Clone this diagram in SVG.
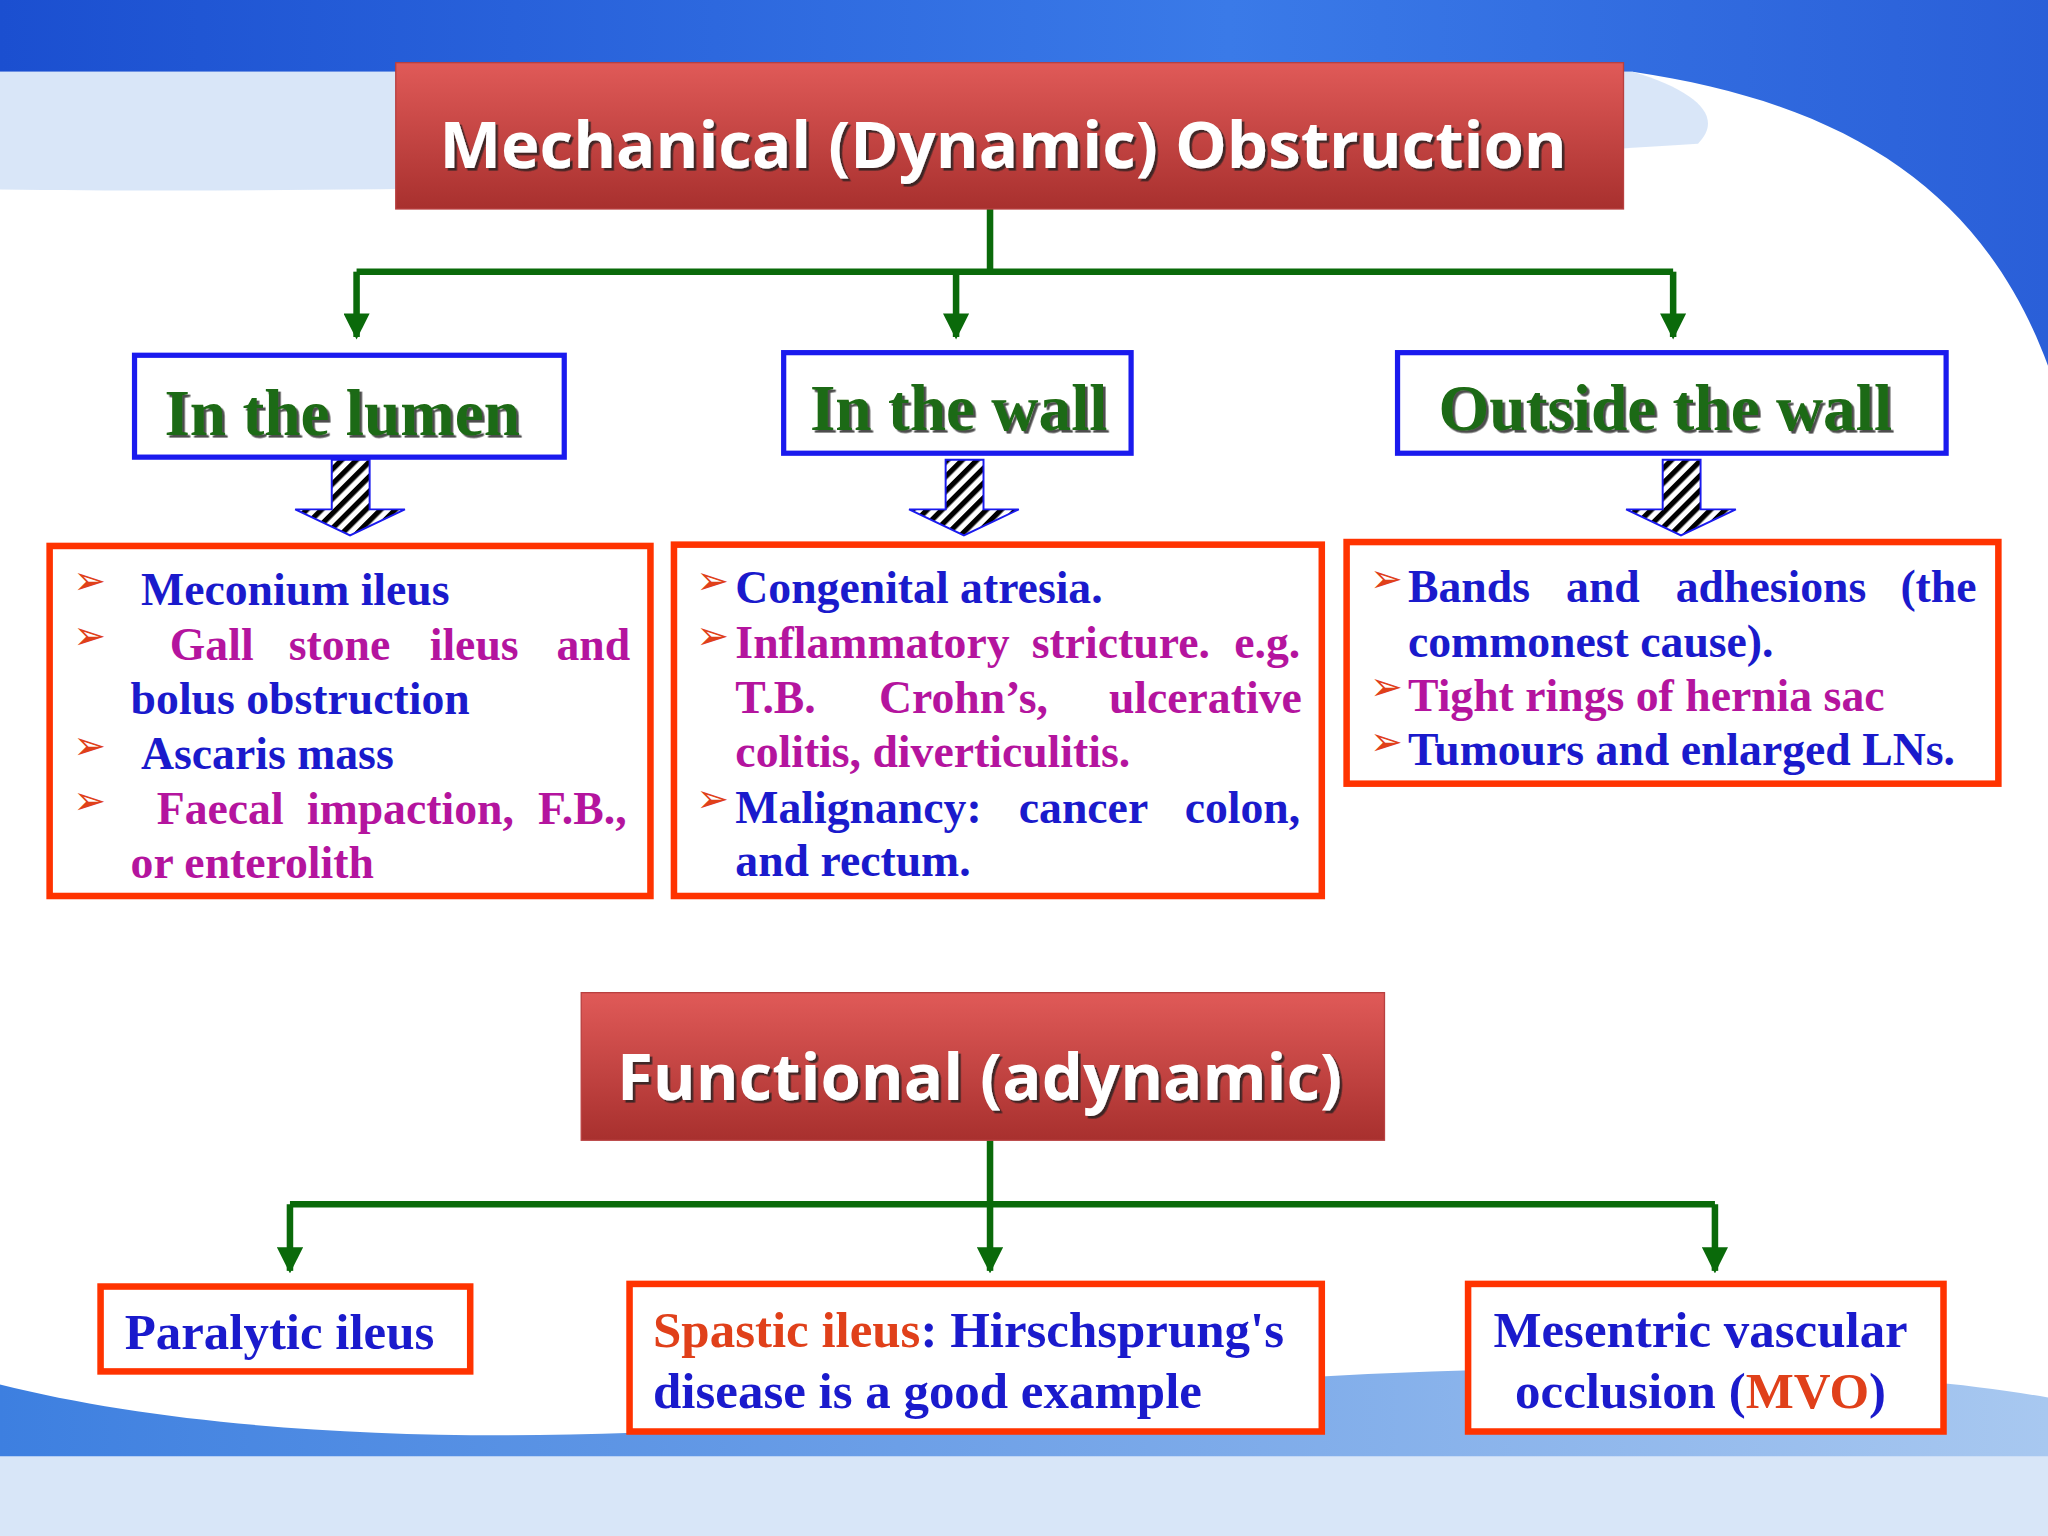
<svg xmlns="http://www.w3.org/2000/svg" width="2048" height="1536" viewBox="0 0 2048 1536">
<defs>
<linearGradient id="red" x1="0" y1="0" x2="0" y2="1"><stop offset="0" stop-color="#e05a58"/><stop offset="1" stop-color="#a8302e"/></linearGradient>
<linearGradient id="sky" x1="0" y1="0" x2="1" y2="0"><stop offset="0" stop-color="#1b4fd0"/><stop offset="0.6" stop-color="#3a7ae8"/><stop offset="1" stop-color="#2a5fd8"/></linearGradient>
<linearGradient id="bot" x1="0" y1="0" x2="1" y2="0"><stop offset="0" stop-color="#3d7fe0"/><stop offset="1" stop-color="#a8c8f0"/></linearGradient>
<pattern id="stripe" width="8" height="8" patternUnits="userSpaceOnUse" patternTransform="rotate(45)"><rect width="8" height="8" fill="#fff"/><rect width="4" height="8" fill="#000"/></pattern>
<marker id="ah" viewBox="0 0 10 10" refX="9" refY="5" markerWidth="4" markerHeight="4" orient="auto"><path d="M0,0 L10,5 L0,10 Z" fill="#0a6a0a"/></marker>
<filter id="sh"><feDropShadow dx="2" dy="2" stdDeviation="0.5" flood-color="#222" flood-opacity="0.8"/></filter>
</defs>
<style>
.ttl{font-family:"Open Sans","Noto Sans",sans-serif;font-weight:bold;fill:#fff;font-size:50px;filter:url(#sh)}
.hd{font-family:"Liberation Serif",serif;font-weight:bold;fill:#1e6a12;font-size:50px;filter:url(#sh)}
.t{font-family:"Liberation Serif",serif;font-weight:bold;font-size:35px}
.L{font-size:39px}
.b{fill:#1a1acc}.m{fill:#b4149e}.o{fill:#e0401a}
.bul{font-family:"DejaVu Sans",sans-serif;fill:#e0401a;font-size:30px}
.rb{fill:#fff;stroke:#ff3300;stroke-width:5}
.bb{fill:#fff;stroke:#1a1aee;stroke-width:4}
.ln{stroke:#0a6a0a;stroke-width:5;fill:none}
</style>
<rect width="2048" height="1536" fill="#fff"/>
<g transform="scale(1.30612)">
<path d="M0,0 H1568 V280 C1520,150 1420,80 1250,55 H0 Z" fill="url(#sky)"/>
<path d="M0,55 H1250 C1300,70 1320,90 1300,110 C1000,130 400,150 0,145 Z" fill="#cfe0f6" opacity="0.8"/>
<path d="M0,1060 C200,1110 500,1110 800,1070 C1100,1040 1400,1040 1568,1070 V1176 H0 Z" fill="url(#bot)"/>
<path d="M0,1115 H1568 V1176 H0 Z" fill="#d8e6f8"/>

<g id="connectors">
<path class="ln" d="M758,160 V208 M273,208 H1281"/>
<path class="ln" d="M273,208 V258" marker-end="url(#ah)"/>
<path class="ln" d="M732,208 V258" marker-end="url(#ah)"/>
<path class="ln" d="M1281,208 V258" marker-end="url(#ah)"/>
<path class="ln" d="M758,873 V922 M222,922 H1313"/>
<path class="ln" d="M222,922 V973" marker-end="url(#ah)"/>
<path class="ln" d="M758,922 V973" marker-end="url(#ah)"/>
<path class="ln" d="M1313,922 V973" marker-end="url(#ah)"/>
<g stroke="#1a1aee" stroke-width="1.5">
<path d="M254,352 H283 V390 H310 L268,410 L226,390 H254 Z" fill="url(#stripe)"/>
<path d="M724,352 H753 V390 H780 L738,410 L696,390 H724 Z" fill="url(#stripe)"/>
<path d="M1273,352 H1302 V390 H1329 L1287,410 L1245,390 H1273 Z" fill="url(#stripe)"/>
</g>
</g>

<g id="mech"><rect x="303" y="48" width="940" height="112" fill="url(#red)" stroke="#b84040"/><text class="ttl" x="768" y="129" text-anchor="middle">Mechanical (Dynamic) Obstruction</text></g>

<g id="lumen"><rect class="bb" x="103" y="272" width="329" height="78"/><text class="hd" x="262" y="333" text-anchor="middle">In the lumen</text></g>
<g id="wall"><rect class="bb" x="600" y="270" width="266" height="77"/><text class="hd" x="734" y="329" text-anchor="middle">In the wall</text></g>
<g id="outside"><rect class="bb" x="1070" y="270" width="420" height="77"/><text class="hd" x="1275" y="329" text-anchor="middle">Outside the wall</text></g>

<g id="lumenlist"><rect class="rb" x="38" y="418" width="460" height="268"/>
<text class="bul" x="56" y="455">➢</text><text class="t b" x="108" y="463">Meconium ileus</text>
<text class="bul" x="56" y="497">➢</text><text class="t m" y="505"><tspan x="130">Gall</tspan><tspan x="221">stone</tspan><tspan x="329">ileus</tspan><tspan x="426">and</tspan></text>
<text class="t b" x="100" y="547">bolus obstruction</text>
<text class="bul" x="56" y="581">➢</text><text class="t b" x="108" y="589">Ascaris mass</text>
<text class="bul" x="56" y="623">➢</text><text class="t m" y="631"><tspan x="120">Faecal</tspan><tspan x="235">impaction,</tspan><tspan x="412">F.B.,</tspan></text>
<text class="t m" x="100" y="672">or enterolith</text></g>

<g id="walllist"><rect class="rb" x="516" y="417" width="496" height="269"/>
<text class="bul" x="533" y="455">➢</text><text class="t b" x="563" y="462">Congenital atresia.</text>
<text class="bul" x="533" y="497">➢</text><text class="t m" y="504"><tspan x="563">Inflammatory</tspan><tspan x="790">stricture.</tspan><tspan x="945">e.g.</tspan></text>
<text class="t m" y="546"><tspan x="563">T.B.</tspan><tspan x="673">Crohn’s,</tspan><tspan x="849">ulcerative</tspan></text>
<text class="t m" x="563" y="587">colitis, diverticulitis.</text>
<text class="bul" x="533" y="622">➢</text><text class="t b" y="630"><tspan x="563">Malignancy:</tspan><tspan x="780">cancer</tspan><tspan x="907">colon,</tspan></text>
<text class="t b" x="563" y="671">and rectum.</text></g>

<g id="outlist"><rect class="rb" x="1031" y="415" width="499" height="185"/>
<text class="bul" x="1049" y="453">➢</text><text class="t b" y="461"><tspan x="1078">Bands</tspan><tspan x="1199">and</tspan><tspan x="1283">adhesions</tspan><tspan x="1455">(the</tspan></text>
<text class="t b" x="1078" y="503">commonest cause).</text>
<text class="bul" x="1049" y="536">➢</text><text class="t m" x="1078" y="544">Tight rings of hernia sac</text>
<text class="bul" x="1049" y="578">➢</text><text class="t b" x="1078" y="586">Tumours and enlarged LNs.</text></g>

<g id="func"><rect x="445" y="760" width="615" height="113" fill="url(#red)" stroke="#b84040"/><text class="ttl" x="750" y="842" text-anchor="middle">Functional (adynamic)</text></g>

<g id="paralytic"><rect class="rb" x="77" y="985" width="283" height="65"/><text class="t b L" x="214" y="1033" text-anchor="middle">Paralytic ileus</text></g>
<g id="spastic"><rect class="rb" x="482" y="983" width="530" height="113"/><text class="t L" x="500" y="1031"><tspan class="o">Spastic ileus</tspan><tspan class="b">: Hirschsprung's</tspan></text><text class="t b L" x="500" y="1078">disease is a good example</text></g>
<g id="mvo"><rect class="rb" x="1124" y="983" width="364" height="113"/><text class="t b L" x="1302" y="1031" text-anchor="middle">Mesentric vascular</text><text class="t b L" x="1302" y="1078" text-anchor="middle">occlusion (<tspan class="o">MVO</tspan>)</text></g>
</g>
</svg>
